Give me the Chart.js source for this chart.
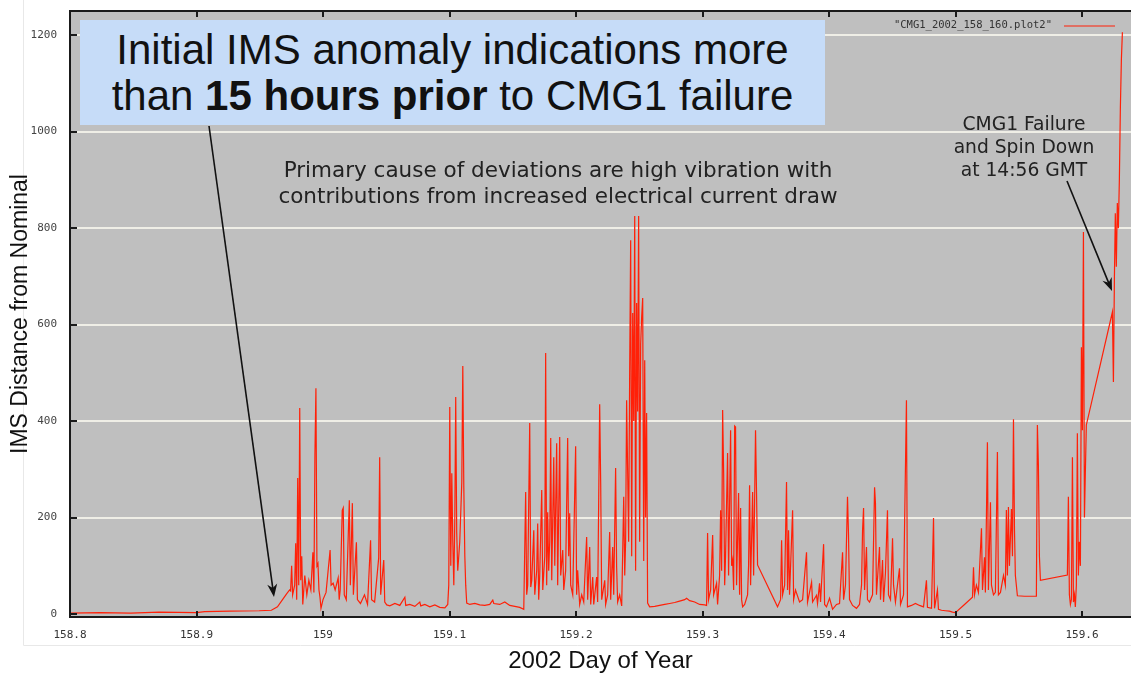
<!DOCTYPE html>
<html lang="en">
<head>
<meta charset="UTF-8">
<title>CMG1 IMS Distance from Nominal</title>
<script src="https://cdn.jsdelivr.net/npm/chart.js"></script>
<style>
  body { margin: 0; background: #fff; }
  #wrap { position: relative; width: 1131px; height: 677px; overflow: hidden; }
  .note { position: absolute; text-align: center; white-space: nowrap; }
  #box {
    left: 80px; top: 20px; width: 745px; height: 105px; box-sizing: border-box;
    padding-top: 7px; background: #c6dcf8; color: #111;
    font: 42px "Liberation Sans", Arial, sans-serif; line-height: 46px;
  }
  #cause {
    left: 258px; top: 157px; width: 600px; color: #222;
    font: 21.5px "DejaVu Sans", sans-serif; line-height: 26px;
  }
  #fail {
    left: 939px; top: 112px; width: 170px; color: #222;
    font: 18.7px "DejaVu Sans", sans-serif; line-height: 23px;
  }
</style>
</head>
<body>
<div id="wrap">
  <canvas id="imsChart" width="1131" height="677"></canvas>
  <div class="note" id="box">Initial IMS anomaly indications more<br>than <b>15 hours prior</b> to CMG1 failure</div>
  <div class="note" id="cause">Primary cause of deviations are high vibration with<br>contributions from increased electrical current draw</div>
  <div class="note" id="fail">CMG1 Failure<br>and Spin Down<br>at 14:56 GMT</div>
</div>
<script>
// tick labels
var dayTicks = [158.8, 158.9, 159.0, 159.1, 159.2, 159.3, 159.4, 159.5, 159.6];
var distTicks = [0, 200, 400, 600, 800, 1000, 1200];

// IMS distance (day of year -> distance)
var imsDay = [
  // quiet start
  158.8, 158.824, 158.848, 158.8704, 158.9, 158.9064, 158.9264, 158.9496, 158.9592, 158.964, 158.968, 158.9712, 158.9736,
  // first burst
  158.9744, 158.9752, 158.976, 158.9776, 158.9784, 158.9792, 158.98, 158.9808, 158.9816, 158.9824,
  158.9832, 158.984, 158.9856, 158.9872, 158.9888, 158.9904, 158.992, 158.9928, 158.9936, 158.9944,
  158.9952, 158.996, 158.9968, 158.9976, 158.9984, 159.0,
  159.0024, 159.0056, 159.0064, 159.008, 159.0096, 159.012, 159.0128, 159.0136, 159.0152, 159.016,
  159.0168, 159.0184, 159.0208, 159.0216, 159.0232, 159.024, 159.0264, 159.0272, 159.0296, 159.0328,
  159.0352, 159.0376, 159.0384, 159.0408, 159.044, 159.0448, 159.0456, 159.048, 159.0488, 159.0504,
  159.0528, 159.0568, 159.0607, 159.0647, 159.0654, 159.0686, 159.0726, 159.0765, 159.0773, 159.0805,
  159.0844, 159.0884, 159.0923, 159.0963, 159.0986,
  // 159.1 burst
  159.0994, 159.1002, 159.101, 159.1018, 159.1026, 159.1034, 159.1042, 159.1049, 159.1057, 159.1065,
  159.1081, 159.1097, 159.1105, 159.1113, 159.1121, 159.1128, 159.1136,
  159.116, 159.12, 159.1239, 159.1279, 159.1318, 159.1342, 159.135, 159.1397, 159.1437, 159.1476,
  159.1516, 159.1555, 159.1587,
  // 159.16 - 159.24
  159.1602, 159.161, 159.1618, 159.1634, 159.1642, 159.165, 159.1666, 159.1674, 159.1689, 159.1697,
  159.1705, 159.1713, 159.1729, 159.1737, 159.1753, 159.176, 159.1768, 159.1776, 159.1784, 159.1792,
  159.18, 159.1808, 159.1824, 159.1832, 159.1847, 159.1855, 159.1871, 159.1879, 159.1895, 159.1903,
  159.1918, 159.1934, 159.1942, 159.195, 159.1958, 159.1974, 159.1997, 159.2005, 159.2013, 159.2029,
  159.2045, 159.2061, 159.2084, 159.2092, 159.2108, 159.2116, 159.2132, 159.214, 159.2163, 159.2171,
  159.2187, 159.2195, 159.2203, 159.2227, 159.2234, 159.225, 159.2266, 159.2274, 159.229, 159.2298,
  159.2313, 159.2321, 159.2329, 159.2345, 159.2361,
  // big burst near 159.25
  159.2377, 159.2385, 159.2392, 159.24, 159.2408, 159.2416, 159.2424, 159.2432, 159.244, 159.2448,
  159.2456, 159.2464, 159.2471, 159.2479, 159.2487, 159.2495, 159.2503, 159.2511, 159.2519, 159.2527,
  159.2535, 159.2543, 159.255, 159.2558, 159.2566,
  159.2582, 159.2622, 159.2661, 159.2701, 159.274, 159.278, 159.2819, 159.2859, 159.2874, 159.2898,
  159.2938, 159.2977, 159.3017, 159.3032,
  // 159.30 - 159.34
  159.304, 159.3048, 159.3064, 159.308, 159.3088, 159.3111, 159.3119, 159.3135, 159.3143, 159.3151,
  159.3159, 159.3167, 159.3175, 159.3182, 159.3198, 159.3206, 159.3222, 159.323, 159.3238, 159.3246,
  159.3254, 159.3261, 159.3269, 159.3285, 159.3293, 159.3301, 159.3309, 159.3317, 159.3333, 159.3356,
  159.3364, 159.3372, 159.338, 159.3396, 159.3404, 159.3419, 159.3427, 159.3435,
  // 159.36 - 159.50
  159.3593, 159.3617, 159.3625, 159.3633, 159.3649, 159.3664, 159.3672, 159.368, 159.3688, 159.3712,
  159.372, 159.3735, 159.3767, 159.3791, 159.3822, 159.383, 159.3862, 159.387, 159.3901, 159.3909,
  159.3925, 159.3933, 159.3957, 159.3965, 159.398, 159.4004, 159.4028, 159.4059, 159.4083, 159.4107,
  159.4115, 159.413, 159.4146, 159.4154, 159.4162, 159.4186, 159.4217, 159.4241, 159.4257, 159.4265,
  159.4273, 159.4281, 159.4296, 159.4304, 159.432, 159.4344, 159.436, 159.4367, 159.4375, 159.4399,
  159.4407, 159.4423, 159.4431, 159.4446, 159.4462, 159.447, 159.4486, 159.4502, 159.451, 159.4525,
  159.4557, 159.4565, 159.4589, 159.4612, 159.462, 159.4652, 159.4683, 159.4715, 159.4747, 159.477,
  159.4778, 159.481, 159.4826, 159.4834, 159.4857, 159.4865, 159.4889, 159.492, 159.4952, 159.4976,
  159.4999,
  // 159.50 - 159.57
  159.5071, 159.5134, 159.5142, 159.515, 159.5165, 159.5181, 159.5205, 159.5213, 159.5229, 159.5236,
  159.5252, 159.526, 159.5276, 159.5284, 159.53, 159.5315, 159.5331, 159.5339, 159.5355, 159.5379,
  159.5394, 159.5402, 159.541, 159.5418, 159.5426, 159.5442, 159.545, 159.5458, 159.5466, 159.5473,
  159.5489, 159.5545, 159.56, 159.5639, 159.5647, 159.5655, 159.5663, 159.5671,
  // failure
  159.5884, 159.5892, 159.59, 159.5908, 159.5916, 159.5924, 159.5932, 159.594, 159.5947, 159.5955,
  159.5963, 159.5971, 159.5979, 159.5987, 159.5995, 159.6003, 159.6011, 159.6019, 159.6026, 159.6034,
  159.624, 159.6248, 159.6256, 159.6263, 159.6271, 159.6279, 159.6287, 159.6295, 159.6303, 159.6311, 159.6319
];
var imsValue = [
  2, 3, 2, 4, 3, 5, 6, 7, 8, 15, 30, 42, 50,
  48, 100, 40, 60, 147, 30, 282, 60, 427, 70,
  120, 20, 80, 40, 70, 50, 128, 45, 330, 468,
  100, 105, 50, 35, 12, 30,
  45, 133, 60, 64, 50, 75, 30, 50, 215, 220,
  40, 30, 236, 60, 230, 40, 149, 30, 22, 40,
  20, 153, 30, 25, 116, 325, 40, 112, 25, 19,
  17, 22, 18, 35, 18, 20, 16, 25, 17, 20,
  15, 19, 14, 13, 20,
  60, 429, 100, 292, 150, 60, 200, 450, 168, 90,
  150, 273, 514, 263, 120, 60, 23,
  20, 22, 19, 18, 20, 29, 22, 20, 25, 18,
  16, 14, 10,
  253, 40, 60, 396, 56, 70, 174, 40, 90, 188,
  30, 80, 257, 50, 120, 541, 60, 211, 90, 150,
  365, 70, 325, 100, 354, 60, 367, 80, 133, 50,
  90, 365, 120, 209, 60, 40, 348, 40, 91, 20,
  40, 25, 160, 30, 139, 20, 77, 20, 77, 25,
  435, 272, 30, 70, 20, 40, 170, 30, 139, 40,
  303, 97, 25, 40, 17,
  243, 80, 150, 443, 298, 150, 500, 775, 120, 624,
  400, 825, 90, 645, 420, 825, 150, 560, 616, 655,
  110, 526, 200, 417, 23,
  15, 16, 18, 20, 22, 24, 27, 30, 33, 28,
  25, 20, 19, 18,
  168, 30, 50, 164, 40, 64, 20, 80, 215, 90,
  423, 292, 60, 120, 334, 80, 381, 100, 112, 50,
  390, 388, 60, 251, 40, 220, 30, 15, 20, 40,
  100, 267, 60, 253, 80, 381, 251, 102,
  15, 30, 153, 40, 60, 274, 50, 174, 40, 215,
  30, 50, 25, 30, 128, 25, 66, 25, 39, 22,
  64, 25, 145, 20, 15, 33, 10, 20, 22, 128,
  30, 60, 243, 164, 30, 18, 12, 20, 60, 174,
  220, 50, 139, 30, 25, 40, 263, 230, 40, 139,
  30, 112, 25, 85, 215, 40, 30, 157, 60, 25,
  95, 20, 40, 443, 15, 18, 22, 18, 15, 70,
  14, 12, 199, 12, 50, 10, 8, 7, 6, 4,
  3,
  20, 35, 97, 40, 60, 45, 178, 50, 118, 45,
  356, 50, 232, 60, 40, 45, 336, 40, 45, 80,
  60, 216, 80, 222, 100, 218, 120, 404, 174, 80,
  38, 37, 37, 37, 392, 309, 120, 70,
  81, 243, 40, 20, 30, 325, 25, 40, 15, 60,
  375, 80, 150, 100, 553, 381, 792, 200, 292, 392,
  626, 481, 700, 831, 720, 852, 800, 900, 1050, 1150, 1206
];

var seriesName = '"CMG1_2002_158_160.plot2"';
var lineRed = 'rgb(255, 32, 8)';
var tickFont = { family: 'DejaVu Sans Mono', size: 11 };

function arrow(ctx, x1, y1, x2, y2) {
    var a = Math.atan2(y2 - y1, x2 - x1);
    ctx.save();
    ctx.strokeStyle = '#111';
    ctx.fillStyle = '#111';
    ctx.lineWidth = 1.6;
    ctx.beginPath();
    ctx.moveTo(x1, y1);
    ctx.lineTo(x2 - 8 * Math.cos(a), y2 - 8 * Math.sin(a));
    ctx.stroke();
    ctx.beginPath();
    ctx.moveTo(x2, y2);
    ctx.lineTo(x2 - 13 * Math.cos(a) + 5 * Math.sin(a), y2 - 13 * Math.sin(a) - 5 * Math.cos(a));
    ctx.lineTo(x2 - 9 * Math.cos(a), y2 - 9 * Math.sin(a));
    ctx.lineTo(x2 - 13 * Math.cos(a) - 5 * Math.sin(a), y2 - 13 * Math.sin(a) + 5 * Math.cos(a));
    ctx.closePath();
    ctx.fill();
    ctx.restore();
}

var gnuplotLook = {
    id: 'gnuplotLook',
    beforeDraw: function (chart) {
        var ctx = chart.ctx, a = chart.chartArea;
        ctx.save();
        // faint outline of the pasted plot image
        ctx.strokeStyle = '#e8e8e8';
        ctx.lineWidth = 1;
        ctx.beginPath();
        ctx.moveTo(23.5, 0);
        ctx.lineTo(23.5, 645.5);
        ctx.lineTo(chart.width, 645.5);
        ctx.stroke();
        ctx.fillStyle = '#bfbfbf';
        ctx.fillRect(a.left, a.top, a.right - a.left, a.bottom - a.top);
        ctx.restore();
    },
    afterDraw: function (chart) {
        var ctx = chart.ctx, a = chart.chartArea;
        var xs = chart.scales.x, ys = chart.scales.y;
        ctx.save();
        ctx.strokeStyle = '#1a1a1a';
        ctx.lineWidth = 2;
        ctx.strokeRect(a.left, a.top, a.right - a.left + 2, a.bottom - a.top);
        ctx.beginPath();
        dayTicks.forEach(function (d) {
            var px = Math.round(xs.getPixelForValue(d));
            ctx.moveTo(px, a.bottom);
            ctx.lineTo(px, a.bottom - 6);
            ctx.moveTo(px, a.top);
            ctx.lineTo(px, a.top + 6);
        });
        distTicks.forEach(function (v) {
            var py = Math.round(ys.getPixelForValue(v));
            ctx.moveTo(a.left, py);
            ctx.lineTo(a.left + 7, py);
        });
        ctx.stroke();

        // key in the top right corner
        ctx.font = '10.5px "DejaVu Sans Mono"';
        ctx.fillStyle = '#333';
        ctx.textAlign = 'right';
        ctx.textBaseline = 'middle';
        ctx.fillText(seriesName, 1052, 25);
        ctx.strokeStyle = lineRed;
        ctx.lineWidth = 1.2;
        ctx.beginPath();
        ctx.moveTo(1064, 26);
        ctx.lineTo(1115, 26);
        ctx.stroke();
        ctx.restore();

        arrow(ctx, 209, 126, 274, 597);
        arrow(ctx, 1067, 181, 1112, 291);
    }
};

var ctx = document.getElementById('imsChart').getContext('2d');
var chart = new Chart(ctx, {
    type: 'line',
    data: {
        datasets: [{
            label: seriesName,
            data: imsDay.map(function (d, i) { return { x: d, y: imsValue[i] }; }),
            borderColor: lineRed,
            borderWidth: 1.2,
            pointRadius: 0,
            tension: 0,
            fill: false
        }]
    },
    options: {
        responsive: false,
        animation: false,
        layout: { padding: { top: 11, right: 0, bottom: 0, left: 0 } },
        plugins: { legend: { display: false }, tooltip: { enabled: false } },
        scales: {
            x: {
                type: 'linear',
                min: 158.8,
                max: 159.6387,
                afterBuildTicks: function (s) { s.ticks = dayTicks.map(function (v) { return { value: v }; }); },
                afterFit: function (s) { s.height = 60; },
                grid: { display: false, drawTicks: false },
                border: { display: false },
                ticks: {
                    padding: 12,
                    font: tickFont,
                    color: '#333',
                    maxRotation: 0,
                    callback: function (v) { return String(Math.round(v * 10) / 10); }
                },
                title: {
                    display: true,
                    text: '2002 Day of Year',
                    color: '#111',
                    font: { family: 'Liberation Sans', size: 24 },
                    padding: { top: 0, bottom: 1 }
                }
            },
            y: {
                min: -6,
                max: 1250,
                afterBuildTicks: function (s) { s.ticks = distTicks.map(function (v) { return { value: v }; }); },
                afterFit: function (s) {
                    s.width = 70;
                    s.paddingTop = 0;
                    s.paddingBottom = 0;
                },
                grid: {
                    drawTicks: false,
                    lineWidth: 2,
                    color: function (c) { return c.tick && c.tick.value === 0 ? 'rgba(0,0,0,0)' : '#efeee6'; }
                },
                border: { display: false },
                ticks: {
                    padding: 13,
                    font: tickFont,
                    color: '#444',
                    callback: function (v) { return String(v); }
                },
                title: {
                    display: true,
                    text: 'IMS Distance from Nominal',
                    color: '#111',
                    font: { family: 'Liberation Sans', size: 23 },
                    padding: { top: 7, bottom: 0 }
                }
            }
        }
    },
    plugins: [gnuplotLook]
});
</script>
</body>
</html>
